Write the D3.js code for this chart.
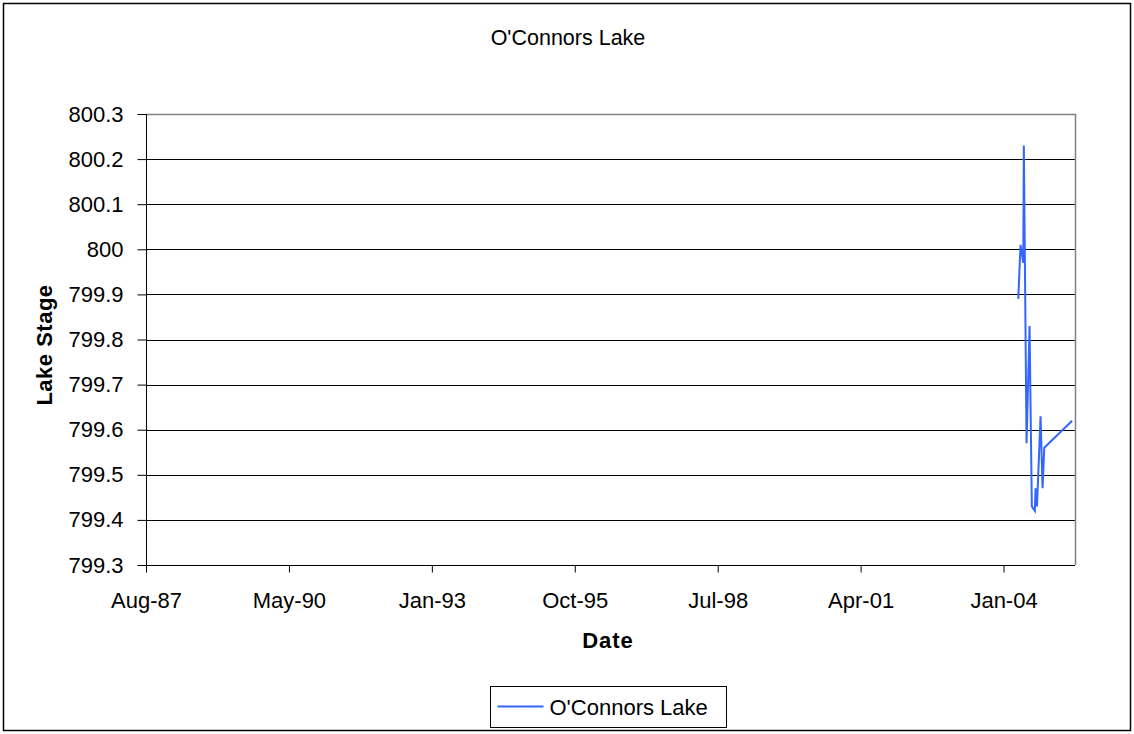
<!DOCTYPE html>
<html>
<head>
<meta charset="utf-8">
<script src="https://cdn.jsdelivr.net/npm/d3@7"></script>
<style>
  html, body { margin: 0; padding: 0; background: #fff; }
  svg { display: block; font-family: "Liberation Sans", Arial, sans-serif; }
</style>
</head>
<body>
<svg id="chart" width="1134" height="734"></svg>
<script>
// Lake stage readings, O'Connors Lake
const dates = ["2004-04-25", "2004-05-11", "2004-05-30", "2004-06-03", "2004-06-22",
               "2004-07-13", "2004-07-29", "2004-08-19", "2004-08-24", "2004-09-03",
               "2004-09-28", "2004-10-12", "2004-10-24", "2005-05-07"];
const stage = [799.89, 800.01, 799.97, 800.23, 799.57,
               799.83, 799.43, 799.42, 799.47, 799.43,
               799.63, 799.47, 799.56, 799.62];

// Date axis: every 1000 days from Aug-87
const xDomain = ["1987-08-10", "2005-05-27"];
const xTickDates = ["1987-08-10", "1990-05-06", "1993-01-30", "1995-10-27",
                    "1998-07-23", "2001-04-18", "2004-01-13"];
const xTickLabels = ["Aug-87", "May-90", "Jan-93", "Oct-95", "Jul-98", "Apr-01", "Jan-04"];
const yTicks = [799.3, 799.4, 799.5, 799.6, 799.7, 799.8, 799.9, 800, 800.1, 800.2, 800.3];

const seriesName = "O'Connors Lake";
const title = "O'Connors Lake";

const FONT = "\"Liberation Sans\", Arial, sans-serif";
const parse = d3.utcParse("%Y-%m-%d");
const svg = d3.select("#chart");

// outer chart frame
svg.append("rect").attr("x", 3.5).attr("y", 3.5).attr("width", 1127).attr("height", 727)
  .attr("fill", "#fff").attr("stroke", "#000").attr("stroke-width", 1.5);

const plot = { left: 146, top: 114, right: 1075, bottom: 565 };

const x = d3.scaleUtc().domain(xDomain.map(parse)).range([plot.left, plot.right]);
const y = d3.scaleLinear().domain([799.3, 800.3]).range([plot.bottom, plot.top]);

// gridlines
svg.append("g").selectAll("line").data(yTicks.slice(1)).join("line")
  .attr("x1", plot.left).attr("x2", plot.right)
  .attr("y1", d => Math.round(y(d)) + 0.5).attr("y2", d => Math.round(y(d)) + 0.5)
  .attr("stroke", "#000").attr("stroke-width", 1);

// plot-area border (top and right)
svg.append("path")
  .attr("d", `M${plot.left},${plot.top + 0.5}H${plot.right + 0.5}V${plot.bottom}`)
  .attr("fill", "none").attr("stroke", "#808080").attr("stroke-width", 1.5);

// y axis
const yAxis = d3.axisLeft(y).tickValues(yTicks).tickSize(9).tickPadding(14)
  .tickFormat(d => d3.format("")(+d.toFixed(1)));
const gy = svg.append("g").attr("transform", `translate(${plot.left + 0.5},0)`).call(yAxis);
gy.select(".domain").attr("stroke", "#000").attr("d", `M0,${plot.top}V${plot.bottom + 0.5}`);
gy.selectAll(".tick line").attr("stroke", "#000");
gy.selectAll(".tick text").attr("font-size", 22).attr("fill", "#000").attr("font-family", FONT);

// x axis
const xAxis = d3.axisBottom(x).tickValues(xTickDates.map(parse)).tickSize(7).tickPadding(20)
  .tickFormat((d, i) => xTickLabels[i]);
const gx = svg.append("g").attr("transform", `translate(0,${plot.bottom + 0.5})`).call(xAxis);
gx.select(".domain").attr("stroke", "#000").attr("d", `M${plot.left},0H${plot.right}`);
gx.selectAll(".tick line").attr("stroke", "#000");
gx.selectAll(".tick text").attr("font-size", 22).attr("fill", "#000").attr("font-family", FONT);

// series line
const line = d3.line().x((d, i) => x(parse(dates[i]))).y(d => y(d));
svg.append("path").datum(stage)
  .attr("d", line).attr("fill", "none")
  .attr("stroke", "#3366ff").attr("stroke-width", 2).attr("stroke-linejoin", "miter");

// title and axis titles
svg.append("text").attr("x", 568).attr("y", 45).attr("text-anchor", "middle")
  .attr("font-size", 21.5).text(title);
svg.append("text").attr("x", 608).attr("y", 648).attr("text-anchor", "middle")
  .attr("font-size", 22).attr("font-weight", "bold").attr("letter-spacing", 1).text("Date");
svg.append("text").attr("transform", "translate(51.5,345) rotate(-90)").attr("text-anchor", "middle")
  .attr("font-size", 22).attr("font-weight", "bold").attr("letter-spacing", 0.5).text("Lake Stage");

// legend
const lg = svg.append("g").attr("transform", "translate(490.5,686.5)");
lg.append("rect").attr("width", 236).attr("height", 41)
  .attr("fill", "#fff").attr("stroke", "#000").attr("stroke-width", 1);
lg.append("line").attr("x1", 7).attr("x2", 53).attr("y1", 20).attr("y2", 20)
  .attr("stroke", "#3366ff").attr("stroke-width", 2);
lg.append("text").attr("x", 59).attr("y", 28).attr("font-size", 22).text(seriesName);
</script>
</body>
</html>
